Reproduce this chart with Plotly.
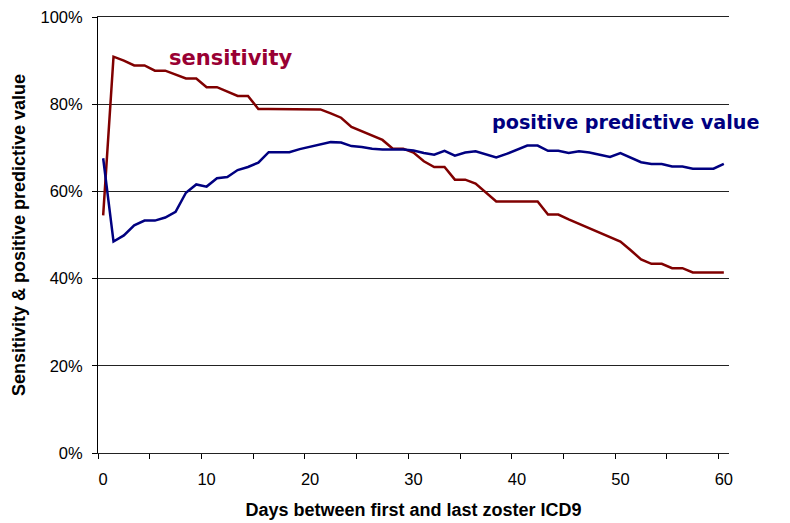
"""
Sensitivity / PPV by days between first and last zoster ICD9
"""

import plotly.graph_objects as go

# 데이터
days = list(range(0, 61))

sensitivity = [
    54.5, 90.9, 90.0, 88.9, 88.9, 87.7, 87.7, 86.8, 85.9, 85.9,
    83.9, 83.9, 82.9, 81.9, 81.9, 78.9, 78.9, 78.9, 78.9, 78.9,
    78.8, 78.8, 77.9, 76.9, 74.8, 73.8, 72.8, 71.8, 69.8, 69.8,
    68.9, 66.9, 65.6, 65.6, 62.7, 62.7, 61.8, 59.7, 57.7, 57.7,
    57.7, 57.7, 57.7, 54.7, 54.7, 53.6, 52.6, 51.6, 50.6, 49.5,
    48.5, 46.5, 44.4, 43.4, 43.4, 42.4, 42.4, 41.4, 41.4, 41.4,
    41.4,
]

ppv = [
    67.6, 48.5, 49.9, 52.2, 53.3, 53.3, 54.0, 55.3, 59.7, 61.6,
    61.1, 63.0, 63.3, 64.9, 65.6, 66.6, 69.0, 69.0, 69.0, 69.7,
    70.2, 70.8, 71.3, 71.2, 70.4, 70.2, 69.8, 69.6, 69.6, 69.6,
    69.4, 68.8, 68.4, 69.3, 68.2, 68.9, 69.2, 68.5, 67.8, 68.6,
    69.6, 70.5, 70.5, 69.3, 69.3, 68.8, 69.2, 68.9, 68.4, 67.9,
    68.8, 67.7, 66.7, 66.3, 66.3, 65.7, 65.7, 65.2, 65.2, 65.2,
    66.3,
]

x_tick_vals = [0, 10, 20, 30, 40, 50, 60]
y_tick_vals = [0, 20, 40, 60, 80, 100]
y_tick_text = ["0%", "20%", "40%", "60%", "80%", "100%"]

SENS_COLOR = "#800000"
PPV_COLOR = "#000080"

fig = go.Figure()

fig.add_trace(go.Scatter(
    x=days, y=sensitivity, mode="lines",
    line=dict(color=SENS_COLOR, width=2.5),
    name="sensitivity",
))
fig.add_trace(go.Scatter(
    x=days, y=ppv, mode="lines",
    line=dict(color=PPV_COLOR, width=2.5),
    name="positive predictive value",
))

# 선 라벨
fig.add_annotation(
    x=12.4, y=90.7, xref="x", yref="y", text="<b>sensitivity</b>",
    showarrow=False, font=dict(family="DejaVu Sans", size=21, color="#990033"),
)
fig.add_annotation(
    x=50.5, y=75.8, xref="x", yref="y", text="<b>positive predictive value</b>",
    showarrow=False, font=dict(family="DejaVu Sans", size=19.2, color=PPV_COLOR),
)

# 페이지 body 여백(8px) 보정
fig.update_layout(
    width=790, height=523,
    margin=dict(l=89.5, r=69, t=8.5, b=78.3),
    plot_bgcolor="white", paper_bgcolor="white",
    showlegend=False,
    font=dict(family="Liberation Sans, Arial", size=16.5, color="black"),
)

fig.update_xaxes(
    range=[-0.5, 60.5],
    automargin=False,
    tickvals=x_tick_vals,
    ticks="",
    ticklabelstandoff=11,
    showgrid=False,
    showline=True, linecolor="#222", linewidth=1, mirror=True,
    zeroline=False,
    minor=dict(ticks="outside", tick0=-0.5, dtick=5, ticklen=5,
               tickcolor="black", showgrid=False),
    title=dict(text="<b>Days between first and last zoster ICD9</b>",
               font=dict(size=18), standoff=16),
)

fig.update_yaxes(
    range=[0, 100],
    automargin=False,
    tickvals=y_tick_vals, ticktext=y_tick_text,
    ticks="outside", ticklen=5, tickcolor="black",
    ticklabelstandoff=6, ticklabeloverflow="allow",
    showgrid=True, gridcolor="#222", gridwidth=1,
    showline=True, linecolor="black", linewidth=1,
    zeroline=False,
    title=dict(text="<b>Sensitivity & positive predictive value</b>",
               font=dict(size=18), standoff=10),
)

fig.write_html("out.html")
